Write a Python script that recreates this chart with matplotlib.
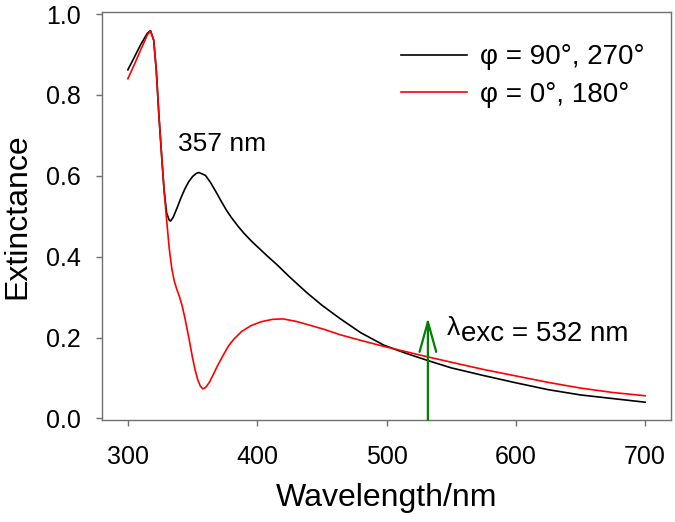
import matplotlib
matplotlib.use("Agg")
from matplotlib import pyplot as plt

plt.rcParams["font.family"] = ["Liberation Sans", "DejaVu Sans"]

# phi = 90, 270 (black)
wl_perp = [300, 305, 310, 315, 317.5, 320, 322, 324, 326, 328, 330, 332, 333, 335,
           338, 341, 344, 347, 350, 353, 355, 360, 364, 368, 372, 376, 380, 385,
           390, 396, 402, 408, 415, 425, 438, 450, 464, 480, 498, 515, 532, 550,
           575, 600, 625, 650, 675, 700]
ext_perp = [0.862, 0.893, 0.925, 0.952, 0.959, 0.935, 0.860, 0.750, 0.655, 0.565,
            0.508, 0.490, 0.488, 0.497, 0.520, 0.545, 0.567, 0.585, 0.598, 0.606,
            0.608, 0.601, 0.583, 0.561, 0.538, 0.516, 0.497, 0.476, 0.457, 0.437,
            0.419, 0.401, 0.381, 0.350, 0.312, 0.280, 0.247, 0.212, 0.181, 0.161,
            0.143, 0.125, 0.106, 0.088, 0.071, 0.058, 0.049, 0.040]

# phi = 0, 180 (red)
wl_par = [300, 305, 310, 315, 317.5, 320, 322, 324, 326, 328, 330, 332, 334, 336,
          338, 340, 342, 344, 346, 348, 350, 352, 354, 356, 358, 360, 363, 366,
          369, 374, 378, 382, 388, 395, 403, 412, 420, 430, 440, 452, 464, 480,
          498, 515, 532, 550, 575, 600, 625, 650, 675, 700]
ext_par = [0.840, 0.875, 0.912, 0.948, 0.958, 0.935, 0.860, 0.750, 0.655, 0.565,
           0.490, 0.420, 0.370, 0.338, 0.318, 0.300, 0.278, 0.250, 0.218, 0.185,
           0.150, 0.120, 0.096, 0.080, 0.073, 0.076, 0.089, 0.108, 0.128, 0.158,
           0.180, 0.196, 0.215, 0.229, 0.239, 0.245, 0.246, 0.240, 0.231, 0.220,
           0.207, 0.193, 0.178, 0.165, 0.152, 0.139, 0.121, 0.105, 0.089, 0.075,
           0.064, 0.056]

labels = ["\u03c6 = 90\u00b0, 270\u00b0", "\u03c6 = 0\u00b0, 180\u00b0"]
x_ticks = [300, 400, 500, 600, 700]
y_ticks = [0.0, 0.2, 0.4, 0.6, 0.8, 1.0]
exc_wl = 532
exc_top = 0.249


def main():
  fig = plt.figure(figsize=(6.75, 5.22), dpi=100)
  ax = fig.add_axes([0.1511, 0.1954, 0.843, 0.7816])

  ax.plot(wl_perp, ext_perp, color="black", lw=1.2, label=labels[0])
  ax.plot(wl_par, ext_par, color="#ff0000", lw=1.2, label=labels[1])

  ax.set_xlim(280, 720)
  ax.set_ylim(-0.004, 1.005)
  ax.set_xticks(x_ticks)
  ax.set_yticks(y_ticks)
  ax.set_yticklabels([f"{v:.1f}" for v in y_ticks])

  for s in ax.spines.values():
    s.set_color("#707070")
    s.set_linewidth(1.0)
  ax.tick_params(direction="out", length=4, width=1.0, color="#707070",
                 labelsize=18, labelcolor="black")
  ax.tick_params(axis="x", pad=14)
  ax.tick_params(axis="y", pad=11)

  ax.set_xlabel("Wavelength/nm", fontsize=23, labelpad=10)
  ax.set_ylabel("Extinctance", fontsize=23, labelpad=10)

  # excitation wavelength arrow
  ax.annotate("", xy=(exc_wl, exc_top), xytext=(exc_wl, -0.004),
              arrowprops=dict(arrowstyle="->,head_length=1.08,head_width=0.3",
                              color="#007f00", lw=1.6, mutation_scale=20,
                              shrinkA=0, shrinkB=0))
  ax.text(546.5, 0.207, "\u03bb", fontsize=19, va="baseline")
  ax.text(557.9, 0.192, "exc = 532 nm", fontsize=20, va="baseline")
  ax.text(338.8, 0.662, "357 nm", fontsize=19, va="baseline")

  ax.legend(loc="upper left", bbox_to_anchor=(0.506, 0.948), frameon=False,
            fontsize=20, handlelength=2.37, handletextpad=0.47,
            labelspacing=0.41, borderaxespad=0)

  fig.savefig("out.png", dpi=100)


main()
